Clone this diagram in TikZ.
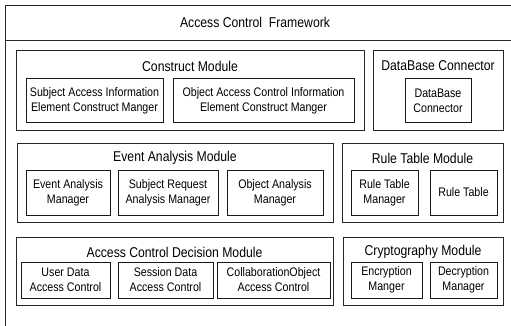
\documentclass[tikz,border=0pt]{standalone}
\usepackage{fontspec}
\setmainfont{Liberation Sans}[FakeStretch=0.86]
\begin{document}
\begin{tikzpicture}[x=1pt,y=-1pt,
  every node/.style={inner sep=0pt,outer sep=0pt},
  modbox/.style={draw=black!85,line width=0.8pt},
  partbox/.style={draw=black!90,line width=1pt,align=center,
    font=\fontsize{12.4}{15}\selectfont},
  headtxt/.style={font=\fontsize{14.2}{16}\selectfont}]
\useasboundingbox (0,0) rectangle (511,326);
\clip (0,0) rectangle (511,326);

% outer framework frame and its title band
\node[modbox,minimum width=520,minimum height=340] (frame) at (265,175) {};
\coordinate (sepL) at (5,40);
\coordinate (sepR) at (525,40);
\draw[black!85,line width=0.8pt] (sepL) -- (sepR);
\node[headtxt] (fwtitle) at (255,22) {Access Control\ \ Framework};

% Construct Module
\node[modbox,minimum width=348,minimum height=80] (cm) at (190,90) {};
\node[headtxt] (cmt) at (190,66) {Construct Module};
\node[partbox,minimum width=137,minimum height=44] (cm1) at (94.5,101)
  {Subject Access Information\\Element Construct Manger};
\node[partbox,minimum width=181,minimum height=44] (cm2) at (263.5,101)
  {Object Access Control Information\\Element Construct Manger};

% DataBase Connector
\node[modbox,minimum width=130,minimum height=80] (db) at (438,90) {};
\node[headtxt] (dbt) at (438,66) {DataBase Connector};
\node[partbox,minimum width=66,minimum height=44] (db1) at (438,101)
  {DataBase\\Connector};

% Event Analysis Module
\node[modbox,minimum width=316,minimum height=79] (ea) at (175,182.5) {};
\node[headtxt] (eat) at (175,158) {Event Analysis Module};
\node[partbox,minimum width=84,minimum height=45] (ea1) at (68,192.5)
  {Event Analysis\\Manager};
\node[partbox,minimum width=100,minimum height=45] (ea2) at (168,192.5)
  {Subject Request\\Analysis Manager};
\node[partbox,minimum width=96,minimum height=45] (ea3) at (275,192.5)
  {Object Analysis\\Manager};

% Rule Table Module
\node[modbox,minimum width=161,minimum height=79] (rt) at (422.5,182.5) {};
\node[headtxt] (rtt) at (422.5,158) {Rule Table Module};
\node[partbox,minimum width=67,minimum height=45] (rt1) at (384.5,192.5)
  {Rule Table\\Manager};
\node[partbox,minimum width=67,minimum height=45] (rt2) at (463.5,192.5)
  {Rule Table};

% Access Control Decision Module
\node[modbox,minimum width=317,minimum height=68] (ad) at (174.5,271) {};
\node[headtxt] (adt) at (174.5,252) {Access Control Decision Module};
\node[partbox,minimum width=89,minimum height=36] (ad1) at (65.5,280)
  {User Data\\Access Control};
\node[partbox,minimum width=95,minimum height=36] (ad2) at (165.5,280)
  {Session Data\\Access Control};
\node[partbox,minimum width=113,minimum height=36] (ad3) at (273.5,280)
  {CollaborationObject\\Access Control};

% Cryptography Module
\node[modbox,minimum width=160,minimum height=68] (cr) at (423,271) {};
\node[headtxt] (crt) at (423,252) {Cryptography Module};
\node[partbox,minimum width=71,minimum height=36] (cr1) at (386.5,280)
  {Encryption\\Manger};
\node[partbox,minimum width=67,minimum height=36] (cr2) at (463.5,280)
  {Decryption\\Manager};
\end{tikzpicture}
\end{document}
